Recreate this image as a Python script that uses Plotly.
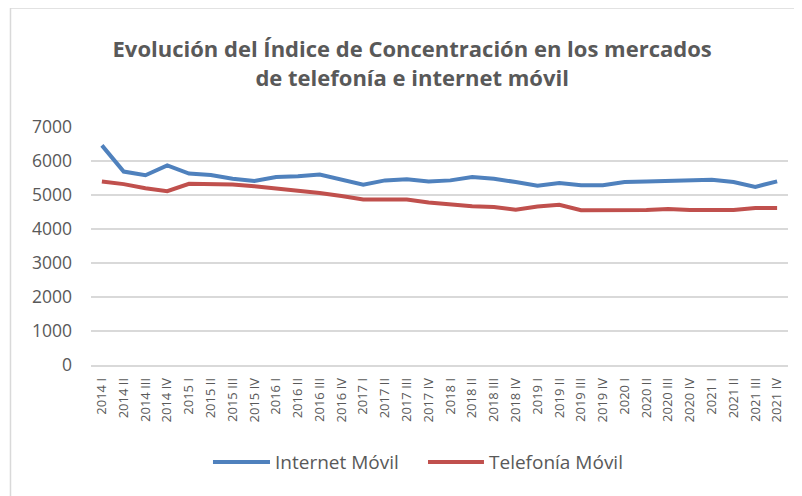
import plotly.graph_objects as go

quarters = ["2014 I", "2014 II", "2014 III", "2014 IV",
            "2015 I", "2015 II", "2015 III", "2015 IV",
            "2016 I", "2016 II", "2016 III", "2016 IV",
            "2017 I", "2017 II", "2017 III", "2017 IV",
            "2018 I", "2018 II", "2018 III", "2018 IV",
            "2019 I", "2019 II", "2019 III", "2019 IV",
            "2020 I", "2020 II", "2020 III", "2020 IV",
            "2021 I", "2021 II", "2021 III", "2021 IV"]

internet_movil = [6460, 5690, 5580, 5870, 5630, 5590, 5480, 5410,
                  5530, 5550, 5600, 5460, 5300, 5430, 5460, 5400,
                  5430, 5530, 5480, 5380, 5270, 5350, 5290, 5290,
                  5380, 5400, 5420, 5420, 5450, 5380, 5240, 5400]

telefonia_movil = [5400, 5320, 5200, 5110, 5330, 5330, 5310, 5260,
                   5200, 5130, 5060, 4970, 4870, 4870, 4870, 4780,
                   4730, 4670, 4650, 4570, 4660, 4710, 4550, 4550,
                   4550, 4560, 4590, 4560, 4560, 4560, 4620, 4620]

y_ticks = [0, 1000, 2000, 3000, 4000, 5000, 6000, 7000]

series_names = ["Internet Móvil", "Telefonía Móvil"]
series_colors = ["#4f81bd", "#c0504d"]

FONT = "Open Sans"
GREY = "#595959"

fig = go.Figure()
for name, vals, col in zip(series_names, [internet_movil, telefonia_movil], series_colors):
    fig.add_trace(go.Scatter(x=quarters, y=vals, mode="lines", name=name,
                             line=dict(color=col, width=4), showlegend=False))

# manual legend (long line samples, as in the original)
legend_pos = [(0.175, 0.2568, 0.2611), (0.4835, 0.5638, 0.5681)]
shapes = [dict(type="rect", xref="paper", yref="paper",
               x0=-0.1155, x1=1.05, y0=-0.6, y1=1.5,
               line=dict(color="#d9d9d9", width=1.5), fillcolor="rgba(0,0,0,0)",
               layer="below")]
annotations = []
for (x0, x1, xt), name, col in zip(legend_pos, series_names, series_colors):
    shapes.append(dict(type="line", xref="paper", yref="paper",
                       x0=x0, x1=x1, y0=-0.4076, y1=-0.4076,
                       line=dict(color=col, width=4)))
    annotations.append(dict(text=name, xref="paper", yref="paper",
                            x=xt, y=-0.4076, xanchor="left", yanchor="middle",
                            showarrow=False,
                            font=dict(size=19, color=GREY, family=FONT)))

fig.update_layout(
    width=794, height=488,
    paper_bgcolor="white", plot_bgcolor="white",
    margin=dict(l=83, r=14, t=119, b=131),
    font=dict(family=FONT, color=GREY),
    title=dict(text="<b>Evolución del Índice de Concentración en los mercados<br>de telefonía e internet móvil</b>",
               x=0.509, xanchor="center", y=0.899, yanchor="middle",
               font=dict(size=22, color=GREY, family=FONT)),
    showlegend=False,
    xaxis=dict(type="category", range=[-0.5, 31.5], tickangle=-90,
               tickfont=dict(size=13, color=GREY, family=FONT),
               showgrid=False, showline=True, linecolor="#d9d9d9", linewidth=1.5,
               ticks="", ticklabelstandoff=6, fixedrange=True),
    yaxis=dict(range=[0, 7000], tickvals=y_ticks,
               tickfont=dict(size=17.5, color=GREY, family=FONT),
               showgrid=True, gridcolor="#d9d9d9", gridwidth=1.5,
               zeroline=False, showline=False, ticks="",
               ticklabelstandoff=18, fixedrange=True),
    shapes=shapes,
    annotations=annotations,
)

fig.write_html("out.html")
